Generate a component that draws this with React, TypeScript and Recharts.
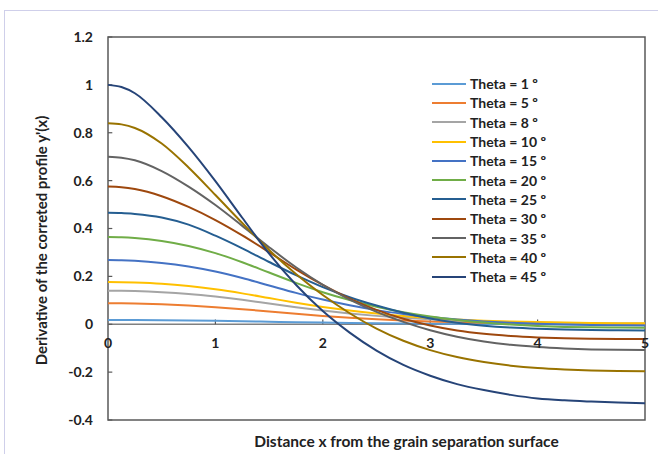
import React from 'react';
import { LineChart, Line, XAxis, YAxis, ReferenceLine, ReferenceDot, ReferenceArea, Legend } from 'recharts';

const FONT = 'Lato, "Open Sans", sans-serif';
const TEXT = '#222222';

const xValues = [0, 0.125, 0.25, 0.5, 0.75, 1, 1.25, 1.5, 1.75, 2, 2.25, 2.5, 2.75, 3, 3.25, 3.5, 3.75, 4, 4.25, 4.5, 4.75, 5];

const theta1 = [0.0175, 0.01745, 0.0173, 0.0167, 0.0157, 0.0143, 0.0126, 0.0106, 0.0086, 0.0068, 0.0053, 0.004, 0.003, 0.0022, 0.0016, 0.0011, 0.0007, 0.0004, 0.0002, 0.0001, 0, 0];
const theta5 = [0.0875, 0.0873, 0.0865, 0.0835, 0.0785, 0.0715, 0.063, 0.0532, 0.0434, 0.0346, 0.0271, 0.0208, 0.0158, 0.0118, 0.0086, 0.0061, 0.0043, 0.003, 0.002, 0.0013, 0.0008, 0.0006];
const theta8 = [0.14, 0.1396, 0.1385, 0.134, 0.1265, 0.1155, 0.102, 0.0865, 0.071, 0.057, 0.045, 0.035, 0.027, 0.0205, 0.0155, 0.0115, 0.0085, 0.0065, 0.005, 0.004, 0.0033, 0.003];
const theta10 = [0.176, 0.1755, 0.174, 0.169, 0.1595, 0.146, 0.129, 0.1095, 0.09, 0.0725, 0.0575, 0.045, 0.0345, 0.0265, 0.02, 0.015, 0.0115, 0.009, 0.007, 0.0055, 0.0045, 0.004];
const theta15 = [0.268, 0.2672, 0.265, 0.256, 0.241, 0.22, 0.193, 0.162, 0.131, 0.103, 0.079, 0.059, 0.043, 0.03, 0.02, 0.012, 0.006, 0.002, -0.001, -0.003, -0.004, -0.005];
const theta20 = [0.364, 0.363, 0.36, 0.348, 0.327, 0.297, 0.259, 0.216, 0.173, 0.134, 0.101, 0.073, 0.05, 0.032, 0.018, 0.007, -0.001, -0.007, -0.011, -0.013, -0.014, -0.015];
const theta25 = [0.466, 0.465, 0.461, 0.446, 0.416, 0.37, 0.317, 0.26, 0.205, 0.155, 0.113, 0.078, 0.048, 0.024, 0.006, -0.006, -0.014, -0.019, -0.022, -0.024, -0.025, -0.026];
const theta30 = [0.575, 0.5725, 0.565, 0.535, 0.49, 0.435, 0.371, 0.301, 0.229, 0.164, 0.107, 0.06, 0.023, -0.005, -0.026, -0.04, -0.049, -0.055, -0.059, -0.061, -0.062, -0.062];
const theta35 = [0.7, 0.696, 0.685, 0.64, 0.575, 0.498, 0.411, 0.322, 0.238, 0.165, 0.103, 0.052, 0.01, -0.025, -0.052, -0.072, -0.086, -0.095, -0.101, -0.105, -0.107, -0.108];
const theta40 = [0.84, 0.835, 0.82, 0.755, 0.655, 0.54, 0.423, 0.31, 0.21, 0.122, 0.046, -0.018, -0.069, -0.108, -0.137, -0.158, -0.173, -0.183, -0.189, -0.193, -0.195, -0.196];
const theta45 = [1.0, 0.991, 0.965, 0.865, 0.74, 0.598, 0.445, 0.295, 0.165, 0.055, -0.035, -0.11, -0.17, -0.215, -0.25, -0.275, -0.295, -0.31, -0.318, -0.323, -0.327, -0.33];

const seriesValues = [theta1, theta5, theta8, theta10, theta15, theta20, theta25, theta30, theta35, theta40, theta45];
const seriesKeys = ['t1', 't5', 't8', 't10', 't15', 't20', 't25', 't30', 't35', 't40', 't45'];
const seriesNames = ['Theta = 1 º', 'Theta = 5 º', 'Theta = 8 º', 'Theta = 10 º', 'Theta = 15 º', 'Theta = 20 º', 'Theta = 25 º', 'Theta = 30 º', 'Theta = 35 º', 'Theta = 40 º', 'Theta = 45 º'];
const seriesColors = ['#5B9BD5', '#ED7D31', '#A5A5A5', '#FFC000', '#4472C4', '#70AD47', '#255E91', '#9E480E', '#636363', '#997300', '#264478'];

const yTicks = [-0.4, -0.2, 0, 0.2, 0.4, 0.6, 0.8, 1, 1.2];
const xTickLabels = [0, 1, 2, 3, 4, 5];
const xInnerTicks = [1, 2, 3, 4];

const xTitle = 'Distance x from the grain separation surface';
const yTitle = "Derivative of the correted profile y'(x)";

const data = xValues.map((x, i) => {
  const row: Record<string, number> = { x };
  seriesKeys.forEach((k, j) => {
    row[k] = seriesValues[j][i];
  });
  return row;
});

const fmt = (v: number) => String(Number(v.toFixed(1)));

const renderLegend = () => (
  <div style={{ fontFamily: FONT, fontWeight: 700, fontSize: 14, color: TEXT }}>
    {seriesNames.map((name, j) => (
      <div key={name} style={{ display: 'flex', alignItems: 'center', height: 19.3, whiteSpace: 'nowrap' }}>
        <svg width={34} height={4} style={{ marginRight: 4 }}>
          <line x1={0} y1={2} x2={34} y2={2} stroke={seriesColors[j]} strokeWidth={2} />
        </svg>
        <span>{name}</span>
      </div>
    ))}
  </div>
);

export default function App() {
  return (
    <div style={{ position: 'absolute', left: 0, top: 0, width: 658, height: 454, background: '#ffffff', overflow: 'hidden' }}>
      <div style={{ position: 'absolute', left: 4, top: 10, width: 700, height: 500, borderTop: '1px solid #CFCFEA', borderLeft: '1px solid #CFCFEA' }} />
      <div style={{ position: 'absolute', left: 0, top: 0 }}>
        <LineChart width={658} height={454} data={data} margin={{ top: 37, right: 13, bottom: 0, left: 0 }}>
          <XAxis
            type="number"
            dataKey="x"
            domain={[0, 5]}
            tick={false}
            axisLine={false}
            tickLine={false}
            height={34}
            label={{ value: xTitle, position: 'center', dx: 30, dy: 4, fill: TEXT, fontFamily: FONT, fontWeight: 700, fontSize: 15.5 }}
          />
          <YAxis
            type="number"
            domain={[-0.4, 1.2]}
            ticks={yTicks}
            tickFormatter={fmt}
            width={108}
            axisLine={false}
            tickLine={false}
            tickSize={0}
            tickMargin={15}
            tick={{ fill: TEXT, fontFamily: FONT, fontWeight: 700, fontSize: 14 }}
            label={{ value: yTitle, angle: -90, position: 'center', dx: -12, dy: 12, fill: TEXT, fontFamily: FONT, fontWeight: 700, fontSize: 15 }}
          />
          <ReferenceArea x1={0} x2={5} y1={-0.4} y2={1.2} fill="none" fillOpacity={0} stroke="#595959" strokeWidth={1.5} />
          <ReferenceLine y={0} stroke="#808080" strokeWidth={1.5} />
          {yTicks.map((t) => (
            <ReferenceLine key={'yt' + t} segment={[{ x: 0, y: t }, { x: 0.04, y: t }]} stroke="#595959" strokeWidth={1.2} />
          ))}
          {xInnerTicks.map((t) => (
            <ReferenceLine key={'xt' + t} segment={[{ x: t, y: 0 }, { x: t, y: 0.02 }]} stroke="#595959" strokeWidth={1.2} />
          ))}
          {xTickLabels.map((t) => (
            <ReferenceDot
              key={'xl' + t}
              x={t}
              y={0}
              r={0}
              fill="none"
              stroke="none"
              label={{ value: String(t), position: 'bottom', offset: 14, fill: TEXT, fontFamily: FONT, fontWeight: 700, fontSize: 14 }}
            />
          ))}
          {seriesKeys.map((k, j) => (
            <Line
              key={k}
              type="monotone"
              dataKey={k}
              name={seriesNames[j]}
              stroke={seriesColors[j]}
              strokeWidth={2}
              dot={false}
              activeDot={false}
              isAnimationActive={false}
            />
          ))}
          <Legend
            layout="vertical"
            align="center"
            verticalAlign="middle"
            content={renderLegend}
            wrapperStyle={{ left: 432, top: 74, width: 140 }}
          />
        </LineChart>
      </div>
    </div>
  );
}
